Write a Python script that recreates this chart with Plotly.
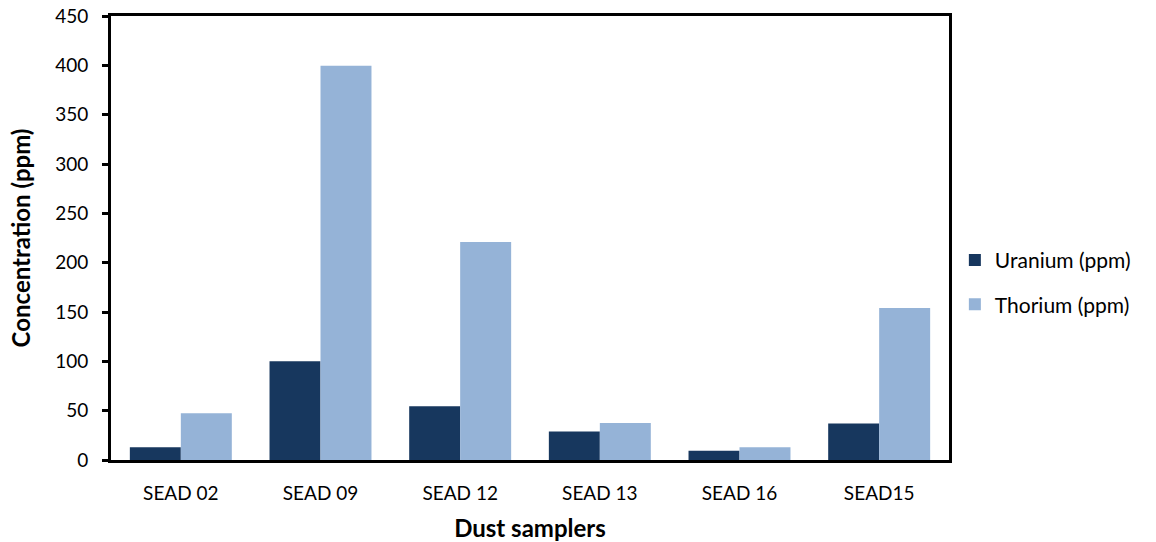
import plotly.graph_objects as go

categories = ["SEAD 02", "SEAD 09", "SEAD 12", "SEAD 13", "SEAD 16", "SEAD15"]
uranium = [13, 100, 54.5, 29, 9.5, 37]
thorium = [47.5, 399.5, 221, 37.5, 13, 154]
y_ticks = [0, 50, 100, 150, 200, 250, 300, 350, 400, 450]

FONT = "Lato, 'Open Sans', sans-serif"

fig = go.Figure()
fig.add_trace(go.Bar(x=categories, y=uranium, name="Uranium (ppm)",
                     marker=dict(color="#17375E", line=dict(width=0)),
                     legendgroup="u"))
fig.add_trace(go.Bar(x=categories, y=thorium, name="Thorium (ppm)",
                     marker=dict(color="#95B3D7", line=dict(width=0)),
                     legendgroup="t"))

fig.update_layout(
    width=1156, height=542,
    margin=dict(l=111, r=207, t=16, b=82, autoexpand=False),
    plot_bgcolor="white", paper_bgcolor="white",
    barmode="group", bargap=0.27, bargroupgap=0,
    font=dict(family=FONT, color="black", size=19),
    legend=dict(x=1.007, y=0.4, xanchor="left", yanchor="middle",
                font=dict(size=21), traceorder="grouped", tracegroupgap=14,
                itemsizing="constant"),
    xaxis=dict(
        title=dict(text="<b>Dust samplers</b>", font=dict(size=24), standoff=18),
        showline=True, linecolor="black", linewidth=3, mirror=True,
        ticks="", tickfont=dict(size=19), ticklabelstandoff=14,
        automargin=False,
    ),
    yaxis=dict(
        title=dict(text="<b>Concentration (ppm)</b>", font=dict(size=24), standoff=18),
        range=[0, 450], tickvals=y_ticks,
        showline=True, linecolor="black", linewidth=3, mirror=True,
        ticks="outside", ticklen=6, tickwidth=3, tickcolor="black",
        showgrid=False, zeroline=False, tickfont=dict(size=19),
        ticklabelstandoff=10, automargin=False,
    ),
)

fig.write_html("out.html")
